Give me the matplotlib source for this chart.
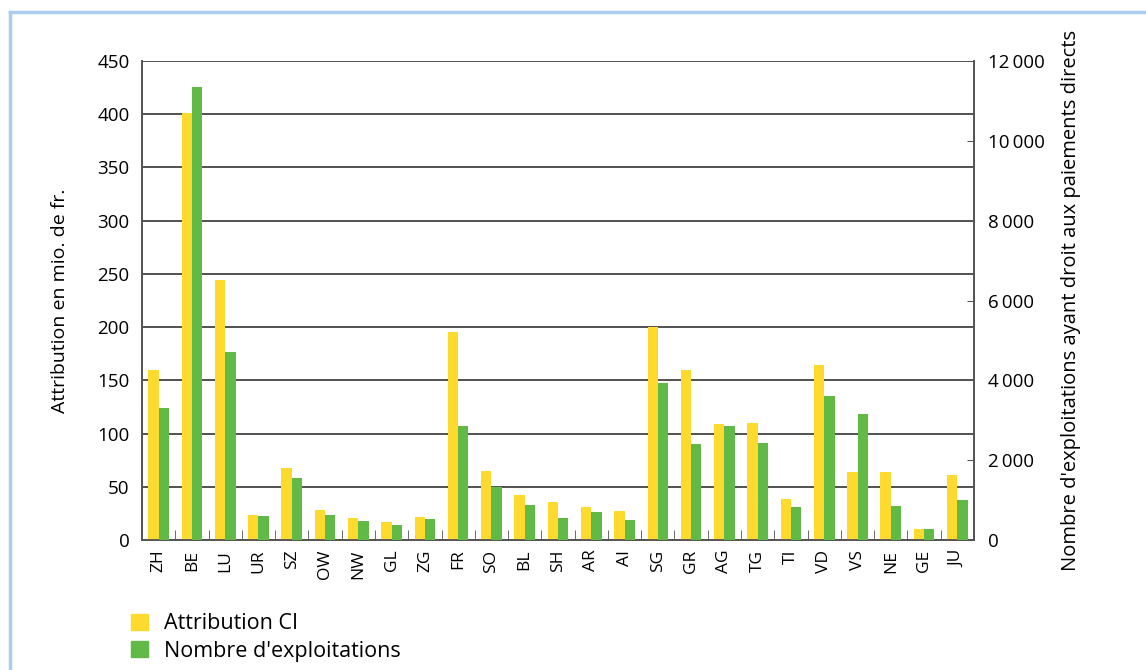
import numpy as np
import matplotlib.pyplot as plt
from matplotlib.lines import Line2D
from matplotlib.patches import Patch

plt.rcParams['font.family'] = ['Open Sans', 'DejaVu Sans']

# cantons and values
cantons = ['ZH', 'BE', 'LU', 'UR', 'SZ', 'OW', 'NW', 'GL', 'ZG', 'FR', 'SO', 'BL', 'SH',
           'AR', 'AI', 'SG', 'GR', 'AG', 'TG', 'TI', 'VD', 'VS', 'NE', 'GE', 'JU']
attribution = [160, 401, 244, 23.5, 67.5, 28, 20.5, 17, 21.5, 195, 65, 42, 36,
               31, 27, 200, 160, 109, 110, 38.5, 164, 64, 64, 10.3, 61]
exploitations = [3300, 11350, 4710, 600, 1550, 620, 475, 375, 525, 2850, 1335, 875, 550,
                 700, 500, 3930, 2400, 2850, 2430, 825, 3600, 3150, 850, 275, 1000]

yellow = '#FEDA2E'
green = '#62BA46'

fig = plt.figure(figsize=(11.46, 6.70), dpi=100)
ax = fig.add_axes([142 / 1146, 1 - 540 / 670, 832 / 1146, 479 / 670])
ax2 = ax.twinx()

x = np.arange(len(cantons))
w = 0.31
ax.bar(x - w / 2, attribution, w, color=yellow, zorder=3)
ax2.bar(x + w / 2, exploitations, w, color=green, zorder=3)

ax.set_xlim(-0.5, len(cantons) - 0.5)
ax.set_ylim(0, 450)
ax2.set_ylim(0, 12000)
ax.set_yticks(np.arange(0, 451, 50))
ax2.set_yticks(np.arange(0, 12001, 2000))
ax2.set_yticklabels([f'{v:,}'.replace(',', '\u2009') for v in range(0, 12001, 2000)])
ax.yaxis.grid(True, color='#222222', linewidth=1.1)
ax.set_axisbelow(True)

ax.set_xticks(x)
ax.set_xticklabels(cantons, rotation=90)
ax.set_xticks(np.arange(0.5, len(cantons) - 1, 1), minor=True)
ax.tick_params(axis='x', which='major', length=0, pad=7, labelsize=12.5)
ax.tick_params(axis='x', which='minor', length=7, direction='in', color='#555555')
ax.tick_params(axis='y', length=0, pad=9, labelsize=13.5)
ax2.tick_params(axis='y', length=5, direction='in', pad=10, labelsize=13.5, color='#555555')

for a in (ax, ax2):
    a.spines['top'].set_visible(False)
    for s in ('left', 'right', 'bottom'):
        a.spines[s].set_color('#555555')
        a.spines[s].set_linewidth(1.3)

ax.set_ylabel('Attribution en mio. de fr.', fontsize=14, labelpad=20)
ax2.set_ylabel("Nombre d'exploitations ayant droit aux paiements directs",
               fontsize=14.5, labelpad=12)

handles = [Patch(color=yellow), Patch(color=green)]
fig.legend(handles, ['Attribution CI', "Nombre d'exploitations"],
           loc='upper left', bbox_to_anchor=(112 / 1146, 1 - 594 / 670),
           frameon=False, fontsize=15.5, handlelength=0.75, handleheight=0.75,
           handletextpad=0.75, labelspacing=0.3)

# light blue frame
fig.add_artist(Line2D([10 / 1146, 10 / 1146], [0, 1 - 12 / 670], color='#A8CDEE', linewidth=2.5))
fig.add_artist(Line2D([10 / 1146, 1], [1 - 12 / 670, 1 - 12 / 670], color='#A8CDEE', linewidth=2.5))

fig.savefig('out.png', dpi=100)
